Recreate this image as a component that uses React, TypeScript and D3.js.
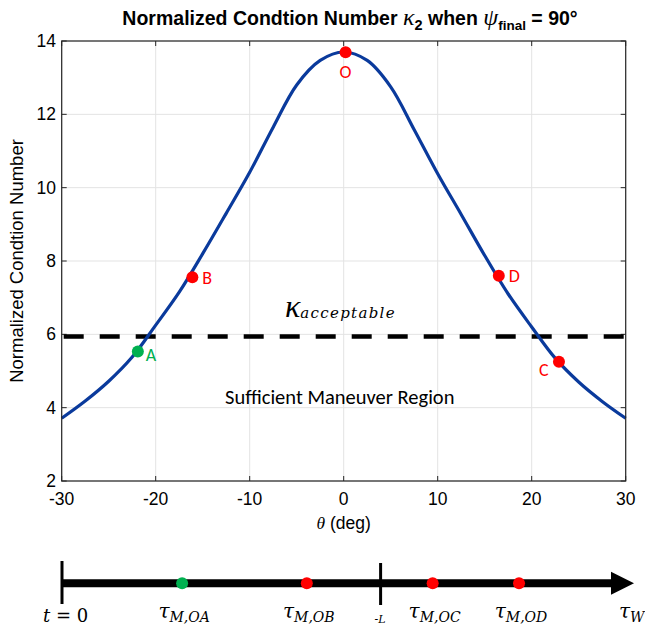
import React from "react";
import * as d3 from "d3";

const thetaValues = [-30, -27.5, -25, -22.5, -20, -17.5, -15, -12.5, -10, -7.5, -5, -2.5, 0, 2.5, 5, 7.5, 10, 12.5, 15, 17.5, 20, 22.5, 25, 27.5, 30];
const kappaValues = [3.71, 4.18, 4.72, 5.38, 6.25, 7.15, 8.2, 9.3, 10.42, 11.65, 12.8, 13.47, 13.7, 13.47, 12.75, 11.58, 10.38, 9.27, 8.15, 7.1, 6.2, 5.35, 4.7, 4.17, 3.71];

const pointNames = ["O", "B", "D", "A", "C"];
const pointTheta = [0.2, -16.1, 16.5, -21.9, 22.9];
const pointKappa = [13.69, 7.56, 7.6, 5.53, 5.25];
const pointColors = ["#ff0000", "#ff0000", "#ff0000", "#00b050", "#ff0000"];

const kappaAcceptable = 5.94;

const xTicks = [-30, -20, -10, 0, 10, 20, 30];
const yTicks = [2, 4, 6, 8, 10, 12, 14];

const timelineNames = ["OA", "OB", "OC", "OD"];
const timelineTimes = [21, 42.8, 64.8, 79.9];
const timelineColors = ["#00b050", "#ff0000", "#ff0000", "#ff0000"];
const timelineLTime = 55.7;

export default function App() {
  const W = 645, H = 627;
  const left = 61.7, right = 625.7, top = 41, bottom = 481;
  const x = d3.scaleLinear().domain([-30, 30]).range([left, right]);
  const y = d3.scaleLinear().domain([2, 14]).range([bottom, top]);
  const data = thetaValues.map((t, i) => [t, kappaValues[i]] as [number, number]);
  const line = d3.line<[number, number]>().x(d => x(d[0])).y(d => y(d[1])).curve(d3.curveCatmullRom.alpha(0.5));

  const tx = d3.scaleLinear().domain([0, 100]).range([62, 634]);
  const tlY = 583.3;
  const sans = "Arial, 'Liberation Sans', sans-serif";
  const calibri = "'Carlito', 'Noto Sans', 'Open Sans', sans-serif";
  const math = "'DejaVu Serif', serif";
  const serif = "'Liberation Serif', serif";

  const labelDx = [0, 10, 10, 8, -20];
  const labelDy = [26, 7, 6, 9, 14];
  const labelAnchor = ["middle", "start", "start", "start", "start"];

  return (
    <svg width={W} height={H} style={{ position: "absolute", left: 0, top: 0, background: "#fff" }} xmlns="http://www.w3.org/2000/svg">
      <rect x={0} y={0} width={W} height={H} fill="#fff" />
      {/* title */}
      <text x={350} y={25} textAnchor="middle" fontFamily={sans} fontWeight="bold" fontSize={19.5} fill="#000">
        Normalized Condtion Number{" "}
        <tspan fontFamily={serif} fontStyle="italic" fontWeight="normal" fontSize={24}>κ</tspan>
        <tspan fontSize={14.5} dy={5}>2</tspan>
        <tspan dy={-5}> when </tspan>
        <tspan fontFamily={serif} fontStyle="italic" fontWeight="normal" fontSize={24}>ψ</tspan>
        <tspan fontSize={13.5} dy={5}>final</tspan>
        <tspan dy={-5}> = 90°</tspan>
      </text>

      {/* grid */}
      {xTicks.map(t => (
        <line key={"gx" + t} x1={x(t)} x2={x(t)} y1={top} y2={bottom} stroke="#e3e3e3" strokeWidth={1} />
      ))}
      {yTicks.map(t => (
        <line key={"gy" + t} x1={left} x2={right} y1={y(t)} y2={y(t)} stroke="#e3e3e3" strokeWidth={1} />
      ))}

      {/* ticks */}
      {xTicks.map(t => (
        <g key={"tx" + t}>
          <line x1={x(t)} x2={x(t)} y1={bottom} y2={bottom - 5} stroke="#262626" />
          <line x1={x(t)} x2={x(t)} y1={top} y2={top + 5} stroke="#262626" />
          <text x={x(t)} y={505} textAnchor="middle" fontFamily={sans} fontSize={17.5} fill="#000">{t}</text>
        </g>
      ))}
      {yTicks.map(t => (
        <g key={"ty" + t}>
          <line x1={left} x2={left + 5} y1={y(t)} y2={y(t)} stroke="#262626" />
          <line x1={right} x2={right - 5} y1={y(t)} y2={y(t)} stroke="#262626" />
          <text x={56} y={y(t) + 6} textAnchor="end" fontFamily={sans} fontSize={17.5} fill="#000">{t}</text>
        </g>
      ))}

      {/* axis labels */}
      <text x={343.7} y={529} textAnchor="middle" fontFamily={sans} fontSize={17.5} fill="#000">
        <tspan fontFamily={serif} fontStyle="italic">θ</tspan> (deg)
      </text>
      <text transform={`translate(23,${(top + bottom) / 2}) rotate(-90)`} textAnchor="middle" fontFamily={sans} fontSize={18.5} fill="#000">
        Normalized Condtion Number
      </text>

      {/* threshold */}
      <line x1={x(-30) + 2} x2={right} y1={y(kappaAcceptable)} y2={y(kappaAcceptable)} stroke="#000" strokeWidth={4.6} strokeDasharray="20,16" />

      {/* curve */}
      <path d={line(data) || ""} fill="none" stroke="#0a3a9c" strokeWidth={3.2} />

      {/* box */}
      <rect x={left} y={top} width={right - left} height={bottom - top} fill="none" stroke="#262626" strokeWidth={1.2} />

      {/* points */}
      {pointNames.map((n, i) => (
        <g key={n}>
          <circle cx={x(pointTheta[i])} cy={y(pointKappa[i])} r={6} fill={pointColors[i]} />
          <text x={x(pointTheta[i]) + labelDx[i]} y={y(pointKappa[i]) + labelDy[i]} textAnchor={labelAnchor[i] as any} fontFamily={calibri} fontSize={18} fill={pointColors[i]}>{n}</text>
        </g>
      ))}

      {/* annotations */}
      <text x={285} y={317} fill="#000">
        <tspan fontFamily={serif} fontStyle="italic" fontSize={32}>κ</tspan>
        <tspan fontFamily={math} fontStyle="italic" fontSize={15} dy={1} letterSpacing={1.3}>acceptable</tspan>
      </text>
      <text x={225} y={404} fontFamily={calibri} fontSize={20.5} fill="#000">Sufficient Maneuver Region</text>

      {/* timeline */}
      <line x1={tx(0)} x2={tx(100) - 20} y1={tlY} y2={tlY} stroke="#000" strokeWidth={8} />
      <path d={`M${tx(100) - 23},${tlY - 11.5} L${tx(100)},${tlY} L${tx(100) - 23},${tlY + 11.5} Z`} fill="#000" />
      <line x1={tx(0)} x2={tx(0)} y1={561} y2={604} stroke="#000" strokeWidth={3} />
      <line x1={tx(timelineLTime)} x2={tx(timelineLTime)} y1={563} y2={605} stroke="#000" strokeWidth={3} />
      {timelineNames.map((n, i) => (
        <g key={"tl" + n}>
          <circle cx={tx(timelineTimes[i])} cy={tlY} r={6} fill={timelineColors[i]} />
          <text x={tx(timelineTimes[i]) + 2} y={618} textAnchor="middle" fontFamily={math} fontStyle="italic" fill="#000">
            <tspan fontSize={20}>τ</tspan>
            <tspan fontSize={14} dy={4}>{"M,O" + n.slice(1)}</tspan>
          </text>
        </g>
      ))}
      <text x={43} y={621.7} fontFamily={math} fontSize={18} fill="#000">
        <tspan fontStyle="italic">t</tspan> = 0
      </text>
      <text x={tx(timelineLTime) - 6} y={623} fontFamily={math} fontStyle="italic" fontSize={11} fill="#000">-L</text>
      <text x={619} y={618} fontFamily={math} fontStyle="italic" fill="#000">
        <tspan fontSize={20}>τ</tspan>
        <tspan fontSize={14} dy={4}>W</tspan>
      </text>
    </svg>
  );
}
